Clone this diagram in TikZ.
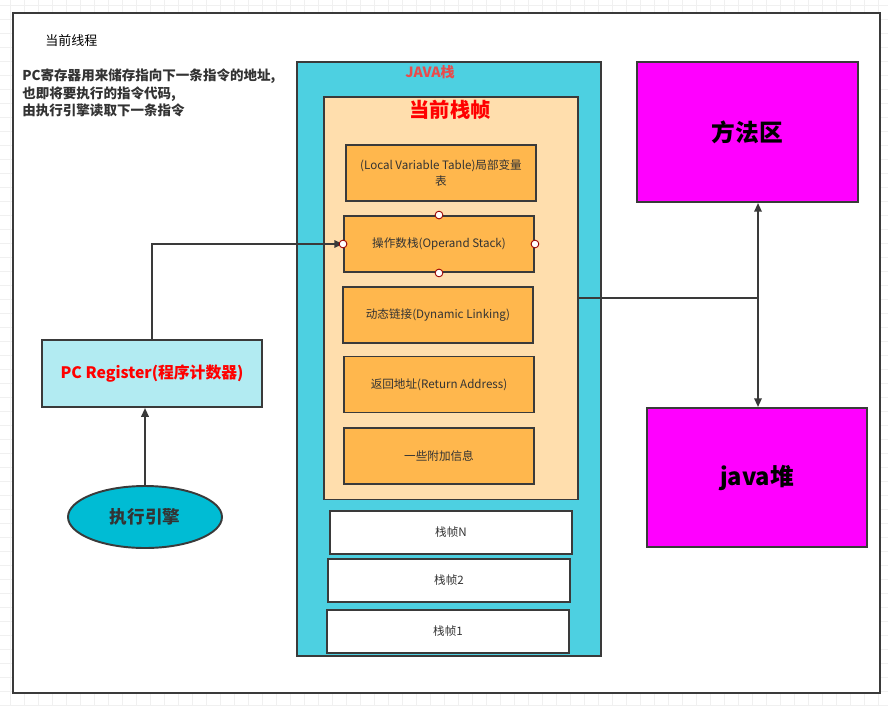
\documentclass[tikz,border=0pt]{standalone}
\usepackage{fontspec}
\setmainfont{Noto Sans CJK SC}
\usepackage{tikz}
\usetikzlibrary{positioning, calc}
\usetikzlibrary{shapes.geometric, arrows.meta}

\definecolor{linegray}{HTML}{3A3A3A}
\definecolor{textgray}{HTML}{333333}
\definecolor{stackcyan}{HTML}{4DD0E1}
\definecolor{framebeige}{HTML}{FFDEAD}
\definecolor{slotorange}{HTML}{FFB74D}
\definecolor{pccyan}{HTML}{B2EBF2}
\definecolor{enginecyan}{HTML}{00BCD4}
\definecolor{javared}{HTML}{EA4B4B}
\definecolor{areapink}{HTML}{FF00FF}

\begin{document}
\begin{tikzpicture}[x=0.02cm, y=-0.02cm,
    box/.style={draw=linegray, line width=1.1pt, inner sep=0pt, text=textgray, align=center},
    slot/.style={box, fill=slotorange, minimum width=3.8cm, minimum height=1.12cm, font=\fontsize{6.6}{9}\selectfont},
    oldframe/.style={box, fill=white, minimum width=4.84cm, minimum height=0.86cm, font=\fontsize{6.6}{9}\selectfont},
    area/.style={box, fill=areapink, text=black, minimum width=4.42cm, minimum height=2.8cm, font=\fontsize{13.5}{16}\selectfont\bfseries},
    pin/.style={circle, draw=red!60!black, fill=white, line width=0.5pt, inner sep=0pt, minimum size=4.4pt},
    arrow/.style={draw=linegray, line width=1.1pt, -{Triangle[length=5pt, width=4.2pt]}}]
    \useasboundingbox (0,0) rectangle (888,706);
    % background grid
    \foreach \gx in {10,24,...,888}
        \draw[black!6, line width=0.4pt] (\gx,0) -- (\gx,706);
    \foreach \gy in {5,19,...,706}
        \draw[black!6, line width=0.4pt] (0,\gy) -- (888,\gy);
    \node[box, fill=white, minimum width=17.34cm, minimum height=13.6cm] (thread) at (446.5,353) {};
    \node[anchor=west, inner sep=0pt, text=black, font=\fontsize{7.4}{9}\selectfont] (threadlabel) at (45,41) {当前线程};
    \node[anchor=north west, align=left, inner sep=0pt, text=textgray, font=\fontsize{7.7}{10.2}\selectfont\bfseries] (note) at (22,68)
        {PC寄存器用来储存指向下一条指令的地址,\\也即将要执行的指令代码,\\由执行引擎读取下一条指令};

    % JAVA stack
    \node[box, fill=stackcyan, minimum width=6.08cm, minimum height=11.88cm] (stack) at (449,359) {};
    \node[text=javared, font=\fontsize{8}{9}\selectfont\bfseries] (stacklabel) at (430,72) {JAVA栈};
    \node[box, fill=framebeige, minimum width=5.08cm, minimum height=8.06cm] (frame) at (451,298) {};
    \node[text=red, font=\fontsize{11.5}{13}\selectfont\bfseries] (framelabel) at (450,110) {当前栈帧};
    \node[slot] (lvt) at (441,173) {(Local Variable Table)局部变量\\表};
    \node[slot] (opstack) at (439,244) {操作数栈(Operand Stack)};
    \node[slot] (dynlink) at (438,315) {动态链接(Dynamic Linking)};
    \node[slot] (retaddr) at (439,384.5) {返回地址(Return Address)};
    \node[slot] (extra) at (439,456) {一些附加信息};
    \node[oldframe] (frameN) at (451,532.5) {栈帧N};
    \node[oldframe] (frame2) at (449,580.5) {栈帧2};
    \node[oldframe] (frame1) at (448,631.5) {栈帧1};

    % shared areas
    \node[area] (method) at (747.5,132) {方法区};
    \node[area, minimum width=4.4cm, minimum height=2.78cm] (heap) at (757,477.5) {java堆};

    % pc register and engine
    \node[box, fill=pccyan, text=red, minimum width=4.4cm, minimum height=1.34cm, font=\fontsize{9}{11}\selectfont\bfseries] (pc) at (152,373.5) {PC Register(程序计数器)};
    \node[ellipse, draw=linegray, line width=1.1pt, fill=enginecyan, text=textgray, minimum width=3.08cm, minimum height=1.24cm, inner sep=0pt, font=\fontsize{10}{12}\selectfont\bfseries] (engine) at (145,517) {执行引擎};

    \draw[arrow] (engine.north) -- (engine.north |- pc.south);
    \draw[arrow] (pc.north) |- (opstack.west);
    \coordinate (split) at (758,298);
    \draw[draw=linegray, line width=1.1pt] (frame.east) -- (split);
    \draw[arrow] (split) -- (split |- method.south);
    \draw[arrow] (split) -- (split |- heap.north);
    \foreach \a in {north, south, east, west}
        \node[pin] at (opstack.\a) {};
\end{tikzpicture}
\end{document}
